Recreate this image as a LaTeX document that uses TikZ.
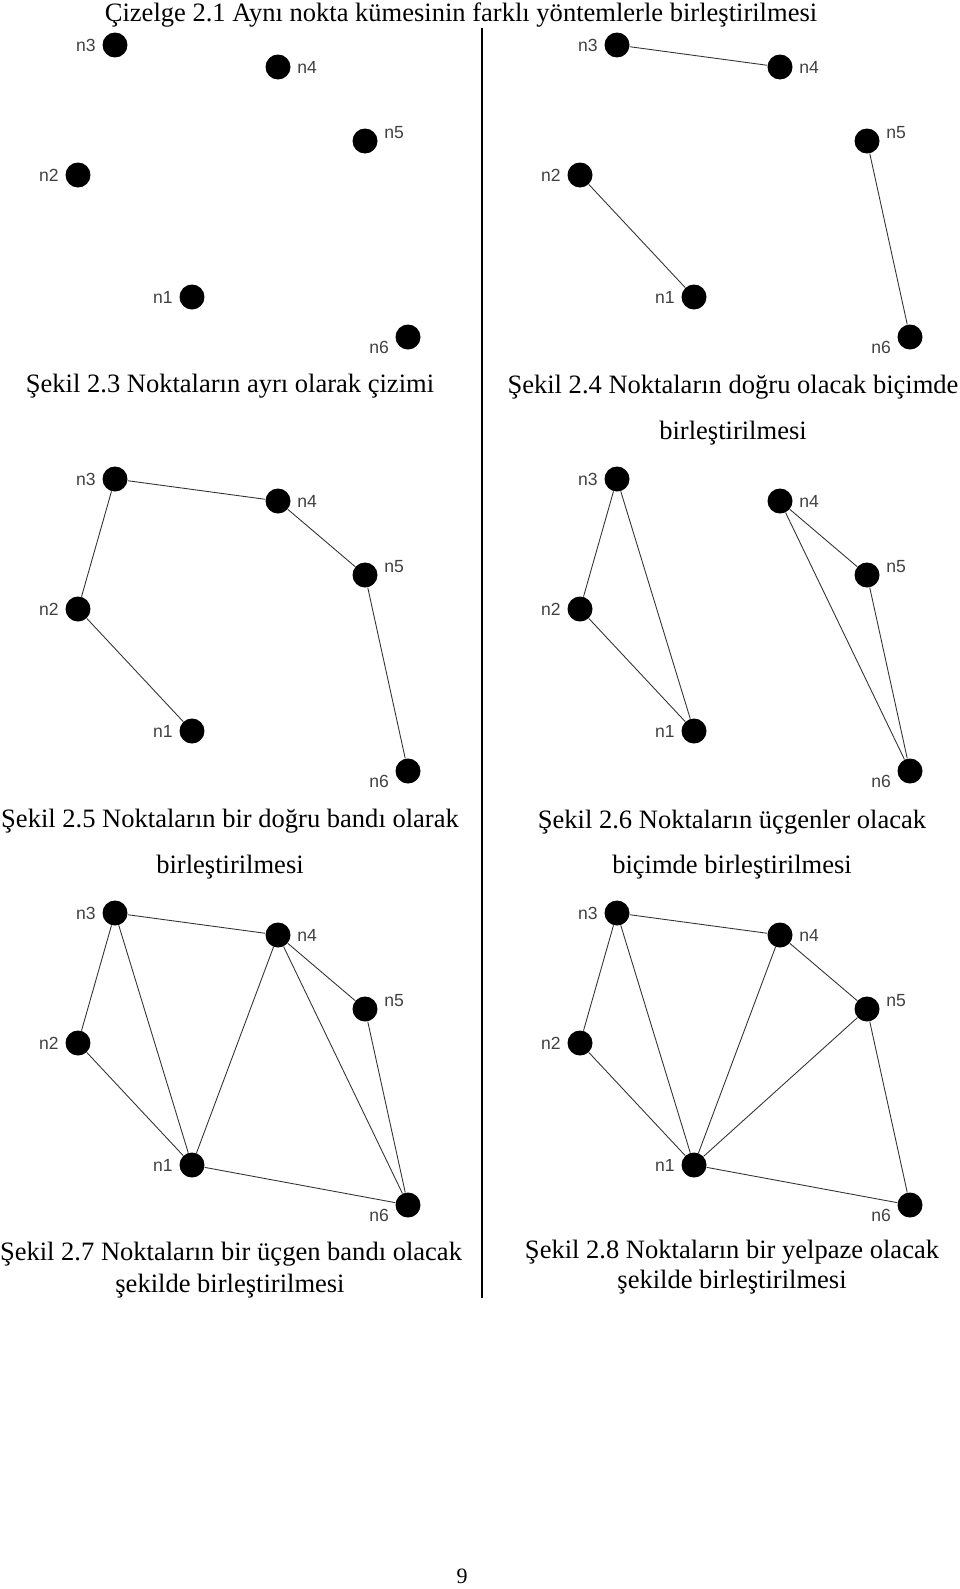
\documentclass[tikz,border=0pt]{standalone}
\usepackage{fontspec}
\setmainfont{Liberation Serif}
\newfontfamily\labelfont{Liberation Sans}
\usetikzlibrary{positioning}

\begin{document}
\begin{tikzpicture}[
    x=0.02cm, y=-0.02cm,
    dot/.style={circle, fill=black, inner sep=0pt, minimum size=0.5cm},
    nlabel/.style={font=\labelfont\fontsize{10}{12}\selectfont, text=black!75, inner sep=0.5pt, label distance=3pt},
    edge/.style={draw=black!80, line width=0.5pt},
    caption/.style={anchor=base, font=\fontsize{15.1}{18}\selectfont}
]
    \useasboundingbox (0,0) rectangle (960,1589);

    % Title
    \node[caption] (title) at (461,21.5) {Çizelge 2.1 Aynı nokta kümesinin farklı yöntemlerle birleştirilmesi};

    % Divider between the two columns
    \coordinate (divtop) at (482,28);
    \coordinate (divbot) at (482,1298);
    \draw[line width=0.6pt] (divtop) -- (divbot);

    % Six copies of the same point set
    \foreach \p/\dx/\dy in {a/0/0, b/502/0, c/0/434, d/502/434, e/0/868, f/502/868} {
        \begin{scope}[shift={(\dx,\dy)}]
            \foreach \n/\x/\y/\a in {1/192/297/180, 2/78/175/180, 3/115/45/180,
                                     4/278/67/0, 5/365/141/5, 6/408/337/189}
                \node[dot, label={[nlabel]\a:n\n}] (\p\n) at (\x,\y) {};
        \end{scope}
    }

    % Sekil 2.4: lines
    \draw[edge] (b3) -- (b4) (b2) -- (b1) (b5) -- (b6);
    % Sekil 2.5: line strip
    \draw[edge] (c1) -- (c2) -- (c3) -- (c4) -- (c5) -- (c6);
    % Sekil 2.6: triangles
    \draw[edge] (d3) -- (d2) -- (d1) -- (d3) (d4) -- (d5) -- (d6) -- (d4);
    % Sekil 2.7: triangle strip
    \draw[edge] (e2) -- (e3) -- (e4) -- (e5) -- (e6) -- (e1) -- (e2)
                (e3) -- (e1) -- (e4) -- (e6);
    % Sekil 2.8: triangle fan
    \draw[edge] (f1) -- (f2) -- (f3) -- (f4) -- (f5) -- (f6) -- (f1)
                (f1) -- (f3) (f1) -- (f4) (f1) -- (f5);

    % Captions
    \node[caption] (cap3) at (230,392) {Şekil 2.3 Noktaların ayrı olarak çizimi};
    \node[caption] (cap4a) at (733,393) {Şekil 2.4 Noktaların doğru olacak biçimde};
    \node[caption] (cap4b) at (733,439) {birleştirilmesi};
    \node[caption] (cap5a) at (230,827) {Şekil 2.5 Noktaların bir doğru bandı olarak};
    \node[caption] (cap5b) at (230,873) {birleştirilmesi};
    \node[caption] (cap6a) at (732,828) {Şekil 2.6 Noktaların üçgenler olacak};
    \node[caption] (cap6b) at (732,873) {biçimde birleştirilmesi};
    \node[caption] (cap7a) at (231,1260) {Şekil 2.7 Noktaların bir üçgen bandı olacak};
    \node[caption] (cap7b) at (230,1292) {şekilde birleştirilmesi};
    \node[caption] (cap8a) at (732,1258) {Şekil 2.8 Noktaların bir yelpaze olacak};
    \node[caption] (cap8b) at (732,1288) {şekilde birleştirilmesi};

    % Page number
    \node[anchor=base, font=\fontsize{12.5}{15}\selectfont] (page) at (462,1583) {9};
\end{tikzpicture}
\end{document}
